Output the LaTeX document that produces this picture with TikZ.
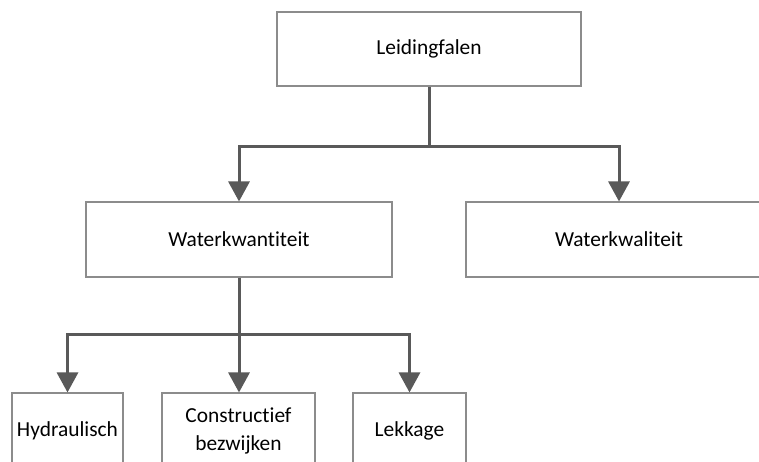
\documentclass[tikz,border=0pt]{standalone}
\usepackage{fontspec}
\setmainfont{Carlito}[Ligatures={NoCommon}]
\usetikzlibrary{arrows.meta}
\definecolor{boxline}{HTML}{8C8C8C}
\definecolor{connline}{HTML}{595959}
\begin{document}
\begin{tikzpicture}[x=1pt,y=-1pt,
  box/.style={draw=boxline, line width=1.1pt, fill=white, inner sep=0pt, align=center,
    font=\fontsize{21.4}{28}\selectfont},
  conn/.style={draw=connline, line width=3pt},
  arr/.style={conn, -{Triangle[width=21pt,length=20pt]}}]
\useasboundingbox (0,0) rectangle (759,461);
\clip (0,0) rectangle (759,461);
\fill[white] (0,0) rectangle (759,461);
\node[box, minimum width=304pt, minimum height=74pt] (top) at (429,49) {Leidingfalen};
\node[box, minimum width=306pt, minimum height=75pt] (kw) at (239,239.5) {Waterkwantiteit};
\node[box, minimum width=306pt, minimum height=75pt] (kl) at (619,239.5) {Waterkwaliteit};
\node[box, minimum width=111pt, minimum height=76pt] (h) at (67.5,431) {Hydraulisch};
\node[box, minimum width=153pt, minimum height=76pt] (c) at (238.5,431) {Constructief\\bezwijken};
\node[box, minimum width=113pt, minimum height=76pt] (l) at (409.5,431) {Lekkage};
\coordinate (j1) at (429,146);
\coordinate (j2) at (239,334);
\draw[conn] (top.south) -- (j1);
\draw[arr] (j1) -| (kw.north);
\draw[arr] (j1) -| (kl.north);
\draw[conn] (kw.south) -- (j2);
\draw[arr] (j2) -| (h.north);
\draw[arr] (j2) -- (j2 |- c.north);
\draw[arr] (j2) -| (l.north);
\end{tikzpicture}
\end{document}
